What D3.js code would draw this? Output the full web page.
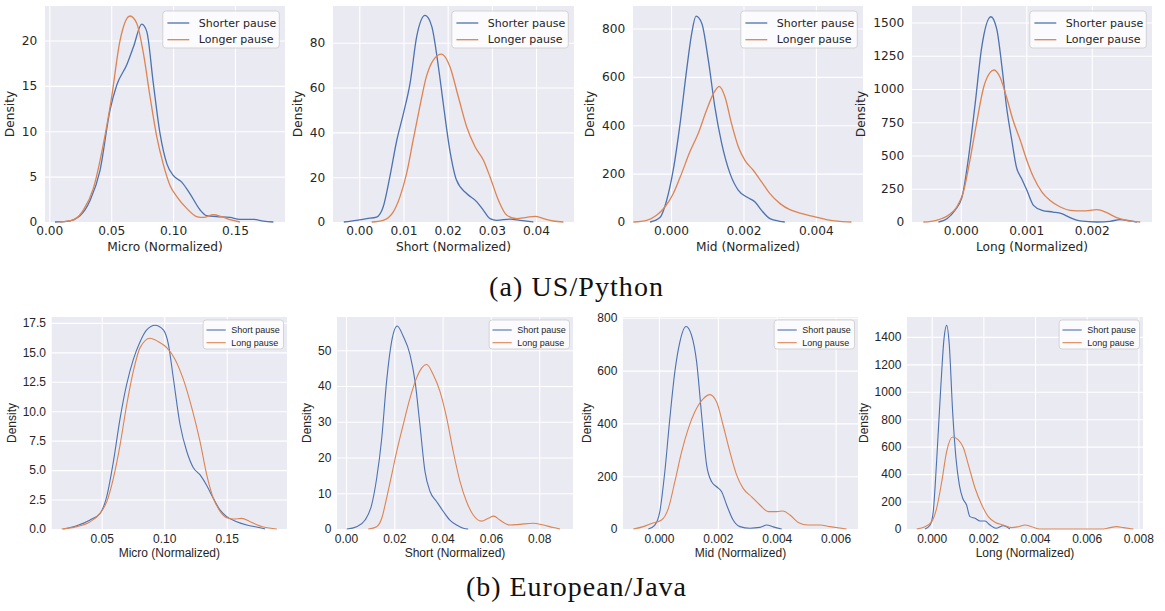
<!DOCTYPE html>
<html>
<head>
<meta charset="utf-8">
<script src="https://cdn.jsdelivr.net/npm/d3@7"></script>
<style>
  body { margin: 0; background: #fff; }
  svg { display: block; }
</style>
</head>
<body>
<main></main>
<script>
// density curves, [value, density]
const usMicroShorter = [[0.0046,0],[0.014,0.07],[0.0248,0.7],[0.033,2.4],[0.041,5.7],[0.049,12.3],[0.0545,15.1],[0.0625,17.3],[0.068,19.3],[0.0747,21.8],[0.0787,21.0],[0.084,15.3],[0.0895,9.7],[0.095,6.4],[0.1003,5.1],[0.107,4.4],[0.1137,3.1],[0.122,1.3],[0.127,0.7],[0.135,0.6],[0.146,0.5],[0.154,0.3],[0.165,0.3],[0.173,0.1],[0.181,0]];
const usMicroLonger = [[0.0086,0],[0.019,0.2],[0.0275,1.3],[0.0356,3.7],[0.0437,8.6],[0.0504,13.8],[0.057,19.9],[0.0652,22.7],[0.0706,21.9],[0.076,18.6],[0.0814,13.8],[0.0868,9.4],[0.092,6.4],[0.0976,4.0],[0.103,2.8],[0.111,1.5],[0.119,0.6],[0.1245,0.5],[0.1326,0.8],[0.139,0.6],[0.146,0.26],[0.154,0]];

const usShortShorter = [[-0.0035,0],[-0.0006,0.75],[0.0017,1.5],[0.0039,2.2],[0.0054,6.7],[0.0069,20],[0.0085,36.6],[0.01,48.5],[0.0115,62],[0.013,82.8],[0.0149,92.2],[0.0164,87.3],[0.0179,69.4],[0.019,53],[0.0205,32],[0.022,18.7],[0.0243,12.7],[0.0266,9],[0.0281,5.2],[0.0296,1.5],[0.0311,0.75],[0.0341,1.3],[0.0364,0.75],[0.0394,0]];
const usShortLonger = [[0.0028,0],[0.0054,0.75],[0.0077,4.5],[0.0092,11.2],[0.0107,21.6],[0.0122,36.6],[0.0137,51.5],[0.0152,65],[0.0168,72.4],[0.0186,74.9],[0.0205,69.4],[0.0224,56],[0.0243,42.5],[0.0262,33.6],[0.0281,27.6],[0.0296,20.1],[0.0315,9.7],[0.0334,3],[0.0356,1.5],[0.0379,2.1],[0.0398,2.5],[0.0417,1.5],[0.0439,0.45],[0.0462,0]];

const usMidShorter = [[-0.00058,0],[-0.0003,20],[-0.00012,90],[0.00006,214],[0.00025,407],[0.00043,628],[0.00057,779],[0.00069,851],[0.00085,821],[0.00103,669],[0.00121,476],[0.0014,324],[0.00163,200],[0.00186,131],[0.00209,103],[0.00232,83],[0.0025,48],[0.00273,14],[0.003,3],[0.00314,0]];
const usMidLonger = [[-0.00104,0],[-0.00067,7],[-0.0004,28],[-0.00017,62],[0.00006,117],[0.00029,200],[0.00052,290],[0.00075,366],[0.00098,462],[0.00117,531],[0.00133,561],[0.00149,517],[0.00167,407],[0.00186,310],[0.00204,255],[0.00227,214],[0.0025,166],[0.00273,117],[0.00301,76],[0.00328,51],[0.00356,37],[0.00393,23],[0.00429,10],[0.00466,3],[0.00498,0]];

const usLongShorter = [[-0.00034,0],[-0.00021,25],[-0.00009,88],[0.00002,188],[0.00012,488],[0.00022,888],[0.00032,1313],[0.00046,1543],[0.00055,1450],[0.00063,1163],[0.0007,863],[0.00078,613],[0.00085,413],[0.00093,325],[0.00101,238],[0.00111,125],[0.00124,88],[0.00141,75],[0.00154,63],[0.00167,33],[0.00182,8],[0.00208,0],[0.00228,5],[0.00243,18],[0.00259,8],[0.00269,0]];
const usLongLonger = [[-0.00057,0],[-0.00037,13],[-0.00019,50],[-0.00006,113],[0.00004,225],[0.00014,463],[0.00024,738],[0.00035,1013],[0.00045,1125],[0.00051,1143],[0.0006,1088],[0.0007,938],[0.0008,763],[0.00091,613],[0.00101,463],[0.00111,338],[0.00124,225],[0.00136,163],[0.00152,113],[0.00167,88],[0.00187,83],[0.00208,93],[0.00223,70],[0.00238,33],[0.00253,13],[0.00274,0]];

const euMicroShort = [[0.0193,0],[0.03,0.28],[0.0407,0.77],[0.0487,1.33],[0.054,2.75],[0.0593,5.7],[0.0647,9.4],[0.07,12.3],[0.0753,14.4],[0.0807,15.9],[0.086,16.9],[0.0927,17.3],[0.0993,16.9],[0.1033,15.7],[0.1073,12.8],[0.1127,8.85],[0.118,6.6],[0.1233,5.2],[0.1287,4.6],[0.134,3.7],[0.1393,2.6],[0.1447,1.6],[0.15,1.05],[0.158,0.62],[0.166,0.34],[0.1767,0.11],[0.1807,0]];
const euMicroLong = [[0.018,0],[0.03,0.2],[0.0407,0.62],[0.0487,1.33],[0.054,2.3],[0.0593,4.3],[0.0647,7.15],[0.07,10.55],[0.0753,13.4],[0.0807,15.4],[0.0887,16.2],[0.0953,15.9],[0.102,15.4],[0.1087,14.4],[0.1153,12.7],[0.122,10.3],[0.1287,7.4],[0.134,4.6],[0.1393,2.6],[0.1447,1.5],[0.15,0.96],[0.1553,0.85],[0.162,0.9],[0.1687,0.62],[0.1793,0.17],[0.19,0]];

const euShortShort = [[0.0003,0],[0.0044,0.65],[0.0079,2.5],[0.0106,6.7],[0.0127,14.2],[0.0148,25.4],[0.0168,41.3],[0.0189,52.5],[0.0212,56.8],[0.0237,53.9],[0.0265,48.8],[0.0286,41.3],[0.0306,29.2],[0.0327,16.1],[0.0348,10.5],[0.0375,7.7],[0.0403,4.9],[0.043,2.5],[0.0458,1.1],[0.0486,0.2],[0.0506,0]];
const euShortLong = [[0.0092,0],[0.0127,0.65],[0.0148,3],[0.0168,8.6],[0.0189,15.1],[0.021,21.7],[0.0237,29.2],[0.0265,36.6],[0.0292,42.2],[0.0313,45],[0.0334,46],[0.0361,43.2],[0.0389,38.5],[0.0417,31],[0.0444,21.7],[0.0472,13.3],[0.0499,7.7],[0.0527,3.9],[0.0561,2.2],[0.0589,3],[0.0612,3.6],[0.0637,2.5],[0.0679,1.1],[0.072,1.3],[0.0775,1.6],[0.0817,1.1],[0.0858,0.4],[0.0886,0]];

const euMidShort = [[-0.00036,0],[-0.00014,15],[0.00003,66],[0.0002,217],[0.00037,418],[0.00054,595],[0.00071,708],[0.00092,767],[0.00111,733],[0.00128,633],[0.00145,431],[0.00162,242],[0.00179,179],[0.00196,160],[0.00213,141],[0.0023,91],[0.00252,34],[0.00275,9],[0.00309,3],[0.00343,6],[0.00366,15],[0.00388,8],[0.00417,0]];
const euMidLong = [[-0.00087,0],[-0.00053,9],[-0.00025,21],[0.00009,34],[0.00032,78],[0.00054,179],[0.00077,292],[0.001,381],[0.00122,444],[0.00151,494],[0.00173,509],[0.00196,481],[0.00218,393],[0.00241,292],[0.00264,204],[0.00286,154],[0.00315,122],[0.00343,91],[0.00371,66],[0.004,66],[0.00422,68],[0.00445,53],[0.00473,25],[0.00507,15],[0.00547,15],[0.00581,9],[0.00637,0]];

const euLongShort = [[-0.00026,0],[-0.00006,29],[0.00006,127],[0.00019,492],[0.00035,1028],[0.00048,1393],[0.00058,1484],[0.00068,1345],[0.00081,857],[0.00094,516],[0.00107,322],[0.0012,224],[0.00135,175],[0.00148,90],[0.00168,78],[0.00187,58],[0.00206,58],[0.00226,29],[0.00249,5],[0.00277,24],[0.00303,0]];
const euLongLong = [[-0.00058,0],[-0.00026,17],[0,54],[0.00019,151],[0.00039,346],[0.00058,565],[0.00081,670],[0.00103,650],[0.00123,590],[0.00142,468],[0.00168,297],[0.00194,175],[0.00219,90],[0.00245,49],[0.00277,29],[0.0031,10],[0.00335,17],[0.00361,29],[0.00387,17],[0.00419,0],[0.00665,0],[0.0069,10],[0.00716,17],[0.00742,10],[0.00781,0]];

const legendA = ["Shorter pause", "Longer pause"];
const legendB = ["Short pause", "Long pause"];
const captions = ["(a) US/Python", "(b) European/Java"];

const w = 1165, h = 611;
const blue = "#4C72B0", orange = "#DD8452";

const rows = [
  {top: 6, bottom: 222, font: "'DejaVu Sans'", fs: 12.2, legendFs: 11, xPad: 4.8, yPad: 7.7, xlabelDy: 28.5, ylabelGap: 8,
   legend: legendA, lw: 1.3, handle: [4.6, 26.5], textX: 36, boxH: 37, rowY: [10, 26.7], rightIn: 5.7, topIn: 5,
   caption: captions[0], capY: 296, capW: 174},
  {top: 317, bottom: 529, font: "'Liberation Sans', Arial", fs: 12, legendFs: 9, xPad: 5.8, yPad: 5.7, xlabelDy: 27.5, ylabelGap: 6.5,
   legend: legendB, lw: 1.1, handle: [3.3, 22.6], textX: 28, boxH: 29, rowY: [8, 20.7], rightIn: 3.5, topIn: 3,
   caption: captions[1], capY: 596, capW: 220}
];

const panels = [
  {row: 0, left: 45, right: 285, xdom: [-0.00347, 0.1904], ydom: [0, 23.8], xticks: [0, 0.05, 0.1, 0.15], xfmt: ".2f", yticks: [0, 5, 10, 15, 20], yfmt: "d", xlabel: "Micro (Normalized)", a: usMicroShorter, b: usMicroLonger},
  {row: 0, left: 333, right: 574, xdom: [-0.00595, 0.0486], ydom: [0, 96.4], xticks: [0, 0.01, 0.02, 0.03, 0.04], xfmt: ".2f", yticks: [0, 20, 40, 60, 80], yfmt: "d", xlabel: "Short (Normalized)", a: usShortShorter, b: usShortLonger},
  {row: 0, left: 633, right: 863, xdom: [-0.00105, 0.0053], ydom: [0, 893], xticks: [0, 0.002, 0.004], xfmt: ".3f", yticks: [0, 200, 400, 600, 800], yfmt: "d", xlabel: "Mid (Normalized)", a: usMidShorter, b: usMidLonger},
  {row: 0, left: 912, right: 1152, xdom: [-0.000744, 0.00292], ydom: [0, 1624], xticks: [0, 0.001, 0.002], xfmt: ".3f", yticks: [0, 250, 500, 750, 1000, 1250, 1500], yfmt: "d", xlabel: "Long (Normalized)", a: usLongShorter, b: usLongLonger},
  {row: 1, left: 51.7, right: 287, xdom: [0.01, 0.1982], ydom: [0, 18], xticks: [0.05, 0.1, 0.15], xfmt: ".2f", yticks: [0, 2.5, 5, 7.5, 10, 12.5, 15, 17.5], yfmt: ".1f", xlabel: "Micro (Normalized)", a: euMicroShort, b: euMicroLong},
  {row: 1, left: 337, right: 573, xdom: [-0.00373, 0.094], ydom: [0, 59.3], xticks: [0, 0.02, 0.04, 0.06, 0.08], xfmt: ".2f", yticks: [0, 10, 20, 30, 40, 50], yfmt: "d", xlabel: "Short (Normalized)", a: euShortShort, b: euShortLong},
  {row: 1, left: 623, right: 858, xdom: [-0.00122, 0.00676], ydom: [0, 803], xticks: [0, 0.002, 0.004, 0.006], xfmt: ".3f", yticks: [0, 200, 400, 600, 800], yfmt: "d", xlabel: "Mid (Normalized)", a: euMidShort, b: euMidLong},
  {row: 1, left: 907, right: 1143, xdom: [-0.000956, 0.00818], ydom: [0, 1545], xticks: [0, 0.002, 0.004, 0.006, 0.008], xfmt: ".3f", yticks: [0, 200, 400, 600, 800, 1000, 1200, 1400], yfmt: "d", xlabel: "Long (Normalized)", a: euLongShort, b: euLongLong}
];

const svg = d3.select("main")
  .append("svg")
  .attr("width", w)
  .attr("height", h);

panels.forEach(p => {
  const r = rows[p.row];
  const x = d3.scaleLinear().domain(p.xdom).range([p.left, p.right]);
  const y = d3.scaleLinear().domain(p.ydom).range([r.bottom, r.top]);
  const g = svg.append("g");

  g.append("rect")
    .attr("x", p.left).attr("y", r.top)
    .attr("width", p.right - p.left).attr("height", r.bottom - r.top)
    .attr("fill", "#EAEAF2");

  // white grid
  g.append("g")
    .attr("transform", "translate(0," + r.bottom + ")")
    .call(d3.axisBottom(x).tickValues(p.xticks).tickSize(-(r.bottom - r.top)).tickFormat(""))
    .call(s => s.select(".domain").remove())
    .selectAll("line").attr("stroke", "#fff").attr("stroke-width", 1.1);
  g.append("g")
    .attr("transform", "translate(" + p.left + ",0)")
    .call(d3.axisLeft(y).tickValues(p.yticks).tickSize(-(p.right - p.left)).tickFormat(""))
    .call(s => s.select(".domain").remove())
    .selectAll("line").attr("stroke", "#fff").attr("stroke-width", 1.1);

  // tick labels
  const xa = g.append("g")
    .attr("transform", "translate(0," + r.bottom + ")")
    .call(d3.axisBottom(x).tickValues(p.xticks).tickSize(0).tickPadding(r.xPad).tickFormat(d3.format(p.xfmt)));
  const ya = g.append("g")
    .attr("transform", "translate(" + p.left + ",0)")
    .call(d3.axisLeft(y).tickValues(p.yticks).tickSize(0).tickPadding(r.yPad).tickFormat(d3.format(p.yfmt)));
  [xa, ya].forEach(a => {
    a.select(".domain").remove();
    a.attr("font-family", r.font).attr("font-size", r.fs);
    a.selectAll("text").attr("fill", "#262626");
  });

  // curves
  const line = d3.line()
    .x(d => x(d[0]))
    .y(d => y(d[1]))
    .curve(d3.curveMonotoneX);
  [[p.a, blue], [p.b, orange]].forEach(([data, c]) => {
    g.append("path")
      .datum(data)
      .attr("d", line)
      .attr("fill", "none")
      .attr("stroke", c)
      .attr("stroke-width", r.lw);
  });

  // axis labels
  g.append("text")
    .attr("x", (p.left + p.right) / 2)
    .attr("y", r.bottom + r.xlabelDy)
    .attr("text-anchor", "middle")
    .attr("font-family", r.font).attr("font-size", r.fs)
    .attr("fill", "#262626")
    .text(p.xlabel);
  const tickLeft = ya.node().getBBox().x + p.left;
  g.append("text")
    .attr("transform", "translate(" + (tickLeft - r.ylabelGap) + "," + ((r.top + r.bottom) / 2) + ") rotate(-90)")
    .attr("text-anchor", "middle")
    .attr("font-family", r.font).attr("font-size", r.fs)
    .attr("fill", "#262626")
    .text("Density");

  // legend
  const lg = g.append("g");
  const box = lg.append("rect");
  const texts = r.legend.map((t, i) => lg.append("text")
    .attr("x", r.textX)
    .attr("y", r.rowY[i] + 2)
    .attr("dy", "0.32em")
    .attr("font-family", r.font).attr("font-size", r.legendFs)
    .attr("fill", "#262626")
    .text(t));
  r.legend.forEach((t, i) => {
    lg.append("line")
      .attr("x1", r.handle[0]).attr("x2", r.handle[1])
      .attr("y1", r.rowY[i] + 2).attr("y2", r.rowY[i] + 2)
      .attr("stroke", i === 0 ? blue : orange)
      .attr("stroke-width", r.lw);
  });
  const tw = d3.max(texts, t => t.node().getComputedTextLength());
  const bw = r.textX + tw + (p.row === 0 ? 3 : 3.8);
  box.attr("width", bw).attr("height", r.boxH)
    .attr("rx", 3)
    .attr("fill", "#fff").attr("fill-opacity", 0.8)
    .attr("stroke", "#cccccc").attr("stroke-opacity", 0.8);
  lg.attr("transform", "translate(" + (p.right - r.rightIn - bw) + "," + (r.top + r.topIn) + ")");
});

rows.forEach(r => {
  svg.append("text")
    .attr("x", 576)
    .attr("y", r.capY)
    .attr("text-anchor", "middle")
    .attr("font-family", "'Liberation Serif', 'DejaVu Serif', serif")
    .attr("font-size", 28)
    .attr("textLength", r.capW)
    .attr("lengthAdjust", "spacing")
    .attr("fill", "#111")
    .text(r.caption);
});
</script>
</body>
</html>
